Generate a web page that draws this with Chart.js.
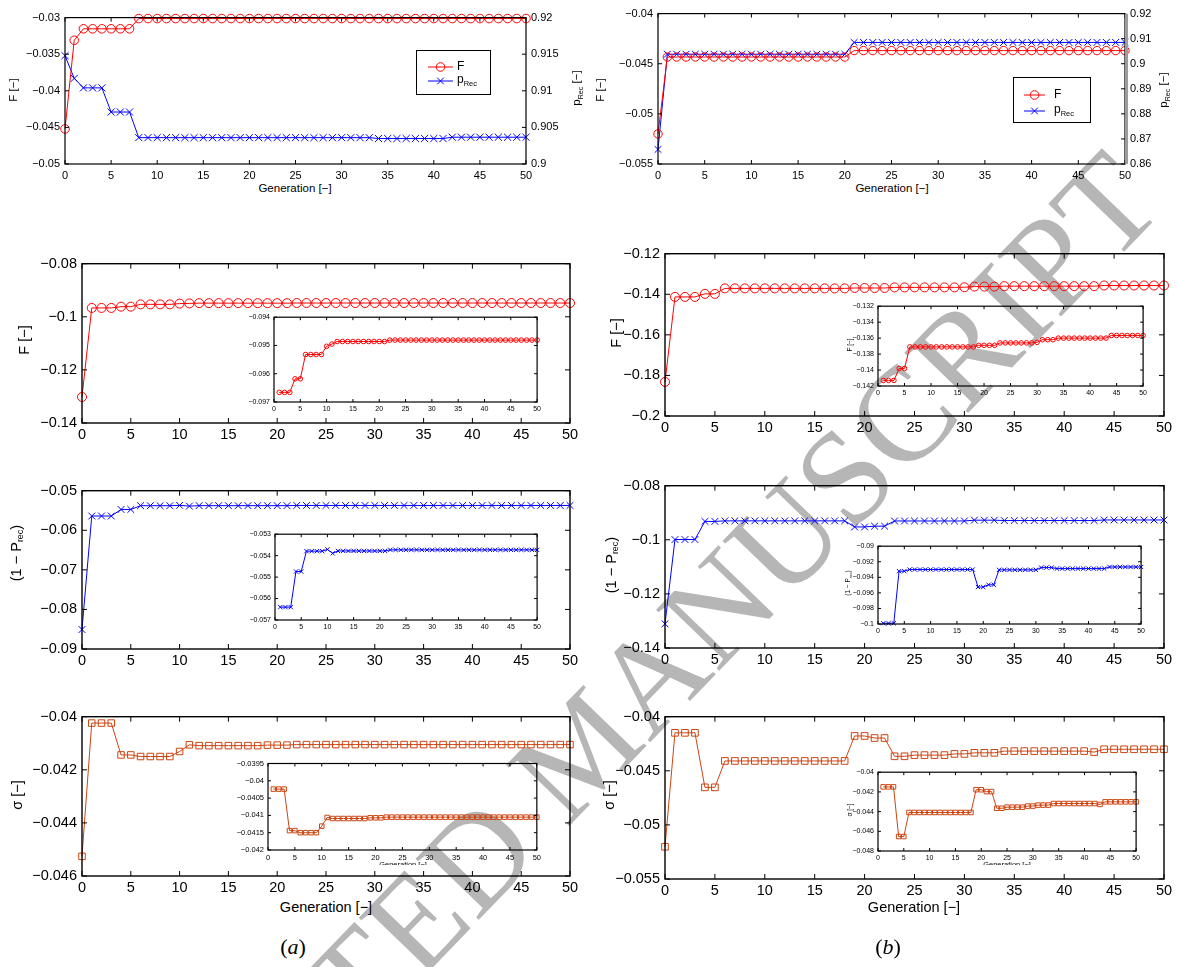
<!DOCTYPE html>
<html>
<head>
<meta charset="utf-8">
<script src="https://cdn.jsdelivr.net/npm/chart.js@4.4.1/dist/chart.umd.min.js"></script>
<style>
  body { margin: 0; width: 1177px; height: 967px; position: relative; overflow: hidden; background: #fff;
         font-family: "Liberation Sans", Arial, sans-serif; color: #000; }
  canvas { position: absolute; }
  .t { position: absolute; white-space: nowrap; line-height: 1; }
  .c { transform: translate(-50%, -50%); }
  .r { transform: translate(-50%, -50%) rotate(-90deg); }
  .legend { position: absolute; background: #fff; border: 1px solid #000; box-sizing: border-box; }
  .legend svg { position: absolute; }
  sub { font-size: 0.62em; vertical-align: -0.3em; }
  .wm { position: absolute; white-space: nowrap; font-family: "Liberation Serif", "DejaVu Serif", serif;
        font-size: 134px; line-height: 1; color: #b6b6b6; transform: translate(-50%, -50%) rotate(-46deg); }
  .clip { position: absolute; overflow: hidden; }
</style>
</head>
<body>
<div class="wm" style="left:582px;top:748px">ACCEPTED MANUSCRIPT</div>
<script>
// generation axis
const generations = [0,1,2,3,4,5,6,7,8,9,10,11,12,13,14,15,16,17,18,19,20,21,22,23,24,25,
  26,27,28,29,30,31,32,33,34,35,36,37,38,39,40,41,42,43,44,45,46,47,48,49,50];
const genTicks = [0,5,10,15,20,25,30,35,40,45,50];

// (a) top: F and p_Rec
const fA = [-0.0452,-0.0331,-0.03153,-0.03153,-0.03153,-0.03153,-0.03153,-0.03153,
  -0.03013,-0.03013,-0.03013,-0.03013,-0.03013,-0.03013,-0.03013,-0.03013,-0.03013,-0.03013,
  -0.03013,-0.03013,-0.03013,-0.03013,-0.03013,-0.03013,-0.03013,-0.03013,-0.03013,-0.03013,
  -0.03013,-0.03013,-0.03013,-0.03013,-0.03013,-0.03013,-0.03013,-0.03013,-0.03013,-0.03013,
  -0.03013,-0.03013,-0.03013,-0.03013,-0.03013,-0.03013,-0.03013,-0.03013,-0.03013,-0.03013,
  -0.03013,-0.03013,-0.03013];
const pRecA = [0.9148,0.9117,0.9104,0.9104,0.9104,0.9071,0.9071,0.9071,
  0.9036,0.9036,0.9036,0.9036,0.9036,0.9036,0.9036,0.9036,0.9036,0.9036,0.9036,0.9036,0.9036,
  0.9036,0.9036,0.9036,0.9036,0.9036,0.9036,0.9036,0.9036,0.9036,0.9036,0.9036,0.9036,0.9036,
  0.90348,0.90348,0.90348,0.90348,0.90348,0.90348,0.90348,0.90348,
  0.90366,0.90366,0.90366,0.90366,0.90366,0.90366,0.90366,0.90366,0.90366];
// (b) top
const fB = [-0.0520,
  -0.04433,-0.04433,-0.04433,-0.04433,-0.04433,-0.04433,-0.04433,-0.04433,-0.04433,-0.04433,
  -0.04433,-0.04433,-0.04433,-0.04433,-0.04433,-0.04433,-0.04433,-0.04433,-0.04433,-0.04433,
  -0.04369,-0.04369,-0.04369,-0.04369,-0.04369,-0.04369,-0.04369,-0.04369,-0.04369,-0.04369,
  -0.04369,-0.04369,-0.04369,-0.04369,-0.04369,-0.04369,-0.04369,-0.04369,-0.04369,-0.04369,
  -0.04369,-0.04369,-0.04369,-0.04369,-0.04369,-0.04369,-0.04369,-0.04369,-0.04369,-0.04369];
const pRecB = [0.8658,
  0.9038,0.9038,0.9038,0.9038,0.9038,0.9038,0.9038,0.9038,0.9038,0.9038,
  0.9038,0.9038,0.9038,0.9038,0.9038,0.9038,0.9038,0.9038,0.9038,0.9038,
  0.9085,0.9085,0.9085,0.9085,0.9085,0.9085,0.9085,0.9085,0.9085,0.9085,
  0.9085,0.9085,0.9085,0.9085,0.9085,0.9085,0.9085,0.9085,0.9085,0.9085,
  0.9085,0.9085,0.9085,0.9085,0.9085,0.9085,0.9085,0.9085,0.9085,0.9085];

// objective F
const fObjA = [-0.1302,-0.09666,-0.09666,-0.09666,-0.09618,-0.09618,
  -0.09532,-0.09532,-0.09532,-0.09532,-0.09503,-0.09495,
  -0.09486,-0.09486,-0.09486,-0.09486,-0.09486,-0.09486,-0.09486,-0.09486,-0.09486,-0.09486,
  -0.09481,-0.09481,-0.09481,-0.09481,-0.09481,-0.09481,-0.09481,-0.09481,-0.09481,-0.09481,
  -0.09481,-0.09481,-0.09481,-0.09481,-0.09481,-0.09481,-0.09481,-0.09481,-0.09481,-0.09481,
  -0.09481,-0.09481,-0.09481,-0.09481,-0.09481,-0.09481,-0.09481,-0.09481,-0.09481];
const fObjB = [-0.1832,-0.1413,-0.1413,-0.1413,-0.1398,-0.1398,
  -0.1371,-0.1371,-0.1371,-0.1371,-0.1371,-0.1371,-0.1371,-0.1371,-0.1371,-0.1371,-0.1371,-0.1371,-0.1371,
  -0.1369,-0.1369,-0.1369,-0.1369,
  -0.1366,-0.1366,-0.1366,-0.1366,-0.1366,-0.1366,-0.1366,-0.13653,
  -0.1362,-0.1362,-0.1362,
  -0.1360,-0.1360,-0.1360,-0.1360,-0.1360,-0.1360,-0.1360,-0.1360,-0.1360,-0.1360,
  -0.13567,-0.13567,-0.13567,-0.13567,-0.13567,-0.13567,-0.13567];

// (1 - P_rec)
const recA = [-0.08508,-0.0564,-0.0564,-0.0564,-0.05474,-0.05474,
  -0.05379,-0.05379,-0.05379,-0.05379,-0.05371,-0.05389,
  -0.05378,-0.05378,-0.05378,-0.05378,-0.05378,-0.05378,-0.05378,-0.05378,-0.05378,-0.05378,
  -0.05373,-0.05373,-0.05373,-0.05373,-0.05373,-0.05373,-0.05373,-0.05373,-0.05373,-0.05373,
  -0.05373,-0.05373,-0.05373,-0.05373,-0.05373,-0.05373,-0.05373,-0.05373,-0.05373,-0.05373,
  -0.05373,-0.05373,-0.05373,-0.05373,-0.05373,-0.05373,-0.05373,-0.05373,-0.05373];
const recB = [-0.13105,-0.0999,-0.0999,-0.0999,-0.09321,-0.09321,
  -0.0930,-0.0930,-0.0930,-0.0930,-0.0930,-0.0930,-0.0930,-0.0930,-0.0930,-0.0930,-0.0930,-0.0930,-0.0930,
  -0.09525,-0.09525,-0.09496,-0.09496,
  -0.09304,-0.09304,-0.09304,-0.09304,-0.09304,-0.09304,-0.09304,-0.09304,
  -0.09275,-0.09275,-0.09275,
  -0.09288,-0.09288,-0.09288,-0.09288,-0.09288,-0.09288,-0.09288,-0.09288,-0.09288,-0.09288,
  -0.09267,-0.09267,-0.09267,-0.09267,-0.09267,-0.09267,-0.09267];

// sigma
const sigmaA = [-0.04526,-0.04024,-0.04024,-0.04024,-0.04144,-0.04144,
  -0.0415,-0.0415,-0.0415,-0.0415,-0.04131,-0.04106,
  -0.04109,-0.04109,-0.04109,-0.04109,-0.04109,-0.04109,-0.04109,
  -0.04107,-0.04107,-0.04107,
  -0.04105,-0.04105,-0.04105,-0.04105,-0.04105,-0.04105,-0.04105,-0.04105,-0.04105,-0.04105,
  -0.04105,-0.04105,-0.04105,-0.04105,-0.04105,-0.04105,-0.04105,-0.04105,-0.04105,-0.04105,
  -0.04105,-0.04105,-0.04105,-0.04105,-0.04105,-0.04105,-0.04105,-0.04105,-0.04105];
const sigmaB = [-0.05202,-0.04149,-0.04149,-0.04149,-0.04653,-0.04653,
  -0.04409,-0.04409,-0.04409,-0.04409,-0.04409,-0.04409,-0.04409,-0.04409,-0.04409,-0.04409,-0.04409,-0.04409,-0.04409,
  -0.04178,-0.04178,-0.04197,-0.04197,-0.04366,-0.04366,
  -0.04355,-0.04355,-0.04355,-0.04355,-0.04344,-0.04344,
  -0.04334,-0.04334,-0.04334,
  -0.04318,-0.04318,-0.04318,-0.04318,-0.04318,-0.04318,-0.04318,-0.04318,-0.04318,-0.04327,
  -0.04301,-0.04301,-0.04301,-0.04301,-0.04301,-0.04301,-0.04301];

// y tick values
const ticksA1 = [-0.05,-0.045,-0.04,-0.035,-0.03];
const ticksA1r = [0.9,0.905,0.91,0.915,0.92];
const ticksB1 = [-0.055,-0.05,-0.045,-0.04];
const ticksB1r = [0.86,0.87,0.88,0.89,0.9,0.91,0.92];
const ticksA2 = [-0.14,-0.12,-0.1,-0.08];
const ticksA2i = [-0.097,-0.096,-0.095,-0.094];
const ticksB2 = [-0.2,-0.18,-0.16,-0.14,-0.12];
const ticksB2i = [-0.142,-0.14,-0.138,-0.136,-0.134,-0.132];
const ticksA3 = [-0.09,-0.08,-0.07,-0.06,-0.05];
const ticksA3i = [-0.057,-0.056,-0.055,-0.054,-0.053];
const ticksB3 = [-0.14,-0.12,-0.1,-0.08];
const ticksB3i = [-0.1,-0.098,-0.096,-0.094,-0.092,-0.09];
const ticksA4 = [-0.046,-0.044,-0.042,-0.04];
const ticksA4i = [-0.042,-0.0415,-0.041,-0.0405,-0.04,-0.0395];
const ticksB4 = [-0.055,-0.05,-0.045,-0.04];
const ticksB4i = [-0.048,-0.046,-0.044,-0.042,-0.04];

const RED = '#ff0000', BLUE = '#0000ff', ORANGE = 'rgb(204,68,17)';
const FONT = '"Liberation Sans", Arial, sans-serif';
Chart.defaults.font.family = FONT;

function fmt(v) {
  const s = String(Number(Math.abs(v).toPrecision(6)));
  return (v < 0 ? '\u2212' : '') + s;
}

// matlab style frame with inward ticks
const boxPlugin = {
  id: 'box',
  afterDatasetsDraw(chart, args, o) {
    const { ctx, chartArea: a, scales } = chart;
    const t = o.tick;
    ctx.save();
    ctx.strokeStyle = '#000';
    ctx.lineWidth = 1;
    ctx.beginPath();
    scales.x.ticks.forEach(tk => {
      const px = scales.x.getPixelForValue(tk.value);
      ctx.moveTo(px, a.bottom); ctx.lineTo(px, a.bottom - t);
      ctx.moveTo(px, a.top); ctx.lineTo(px, a.top + t);
    });
    scales.y.ticks.forEach(tk => {
      const py = scales.y.getPixelForValue(tk.value);
      ctx.moveTo(a.left, py); ctx.lineTo(a.left + t, py);
      if (!scales.y2) { ctx.moveTo(a.right, py); ctx.lineTo(a.right - t, py); }
    });
    if (scales.y2) {
      scales.y2.ticks.forEach(tk => {
        const py = scales.y2.getPixelForValue(tk.value);
        ctx.moveTo(a.right, py); ctx.lineTo(a.right - t, py);
      });
    }
    ctx.stroke();
    ctx.lineWidth = o.lw;
    ctx.strokeRect(a.left, a.top, a.right - a.left, a.bottom - a.top);
    if (o.grayRight) {
      ctx.strokeStyle = '#9c9c9c';
      ctx.lineWidth = 3;
      ctx.beginPath();
      ctx.moveTo(a.right + 1.5, a.top); ctx.lineTo(a.right + 1.5, a.bottom);
      ctx.stroke();
    }
    ctx.restore();
  }
};

function axis(pos, ticks, size, fontSize, pad) {
  return {
    type: 'linear', position: pos,
    min: ticks[0], max: ticks[ticks.length - 1],
    grid: { display: false, drawTicks: false },
    border: { display: false },
    ticks: { color: '#000', font: { size: fontSize }, padding: pad, autoSkip: false, maxRotation: 0,
             callback: v => fmt(v) },
    afterBuildTicks: s => { s.ticks = ticks.map(v => ({ value: v })); },
    afterFit: s => { if (pos === 'bottom') s.height = size; else s.width = size; }
  };
}

function series(vals, from, color, style, r, axisId) {
  const pts = [];
  for (let i = from; i < vals.length; i++) pts.push({ x: generations[i], y: vals[i] });
  return {
    data: pts, yAxisID: axisId || 'y',
    borderColor: color, borderWidth: 1, tension: 0, clip: false,
    pointStyle: style, pointRadius: r, pointBorderColor: color, pointBorderWidth: 1,
    pointBackgroundColor: 'rgba(0,0,0,0)'
  };
}

function panel(p) {
  const cv = document.createElement('canvas');
  const w = p.yW + (p.R - p.L) + (p.rW || 0) + p.padR;
  const h = p.padT + (p.B - p.T) + p.xH;
  cv.width = w; cv.height = h;
  cv.style.left = (p.L - p.yW) + 'px';
  cv.style.top = (p.T - p.padT) + 'px';
  cv.style.width = w + 'px';
  cv.style.height = h + 'px';
  document.body.appendChild(cv);
  const scales = {
    x: axis('bottom', genTicks, p.xH, p.fs, p.xPad),
    y: axis('left', p.yTicks, p.yW, p.fs, p.yPad)
  };
  if (p.y2Ticks) scales.y2 = axis('right', p.y2Ticks, p.rW, p.fs, p.yPad);
  new Chart(cv, {
    type: 'line',
    data: { datasets: p.datasets },
    options: {
      responsive: false, animation: false, devicePixelRatio: 1, events: [],
      layout: { padding: { left: 0, top: p.padT, right: p.padR, bottom: 0 } },
      plugins: { legend: { display: false }, tooltip: { enabled: false },
                 box: { tick: p.tick, lw: p.lw, grayRight: p.grayRight } },
      scales
    },
    plugins: [boxPlugin]
  });
}

function label(html, x, y, size, cls, extra) {
  const d = document.createElement('div');
  d.className = 't ' + cls;
  d.style.left = x + 'px';
  d.style.top = y + 'px';
  d.style.fontSize = size + 'px';
  if (extra) d.style.cssText += extra;
  d.innerHTML = html;
  document.body.appendChild(d);
  return d;
}

function legend(x, y, w, h, rows) {
  const box = document.createElement('div');
  box.className = 'legend';
  box.style.cssText = `left:${x}px;top:${y}px;width:${w}px;height:${h}px`;
  rows.forEach(r => {
    const sv = document.createElementNS('http://www.w3.org/2000/svg', 'svg');
    sv.setAttribute('width', r.len + 10);
    sv.setAttribute('height', 12);
    sv.style.left = (r.x - x - 5) + 'px';
    sv.style.top = (r.y - y - 6) + 'px';
    const mid = r.len / 2 + 5;
    let mk;
    if (r.marker === 'circle') {
      mk = `<circle cx="${mid}" cy="6" r="4.3" fill="none" stroke="${r.color}" stroke-width="1"/>`;
    } else {
      mk = `<path d="M${mid-3.3} 2.7L${mid+3.3} 9.3M${mid-3.3} 9.3L${mid+3.3} 2.7" stroke="${r.color}" stroke-width="1"/>`;
    }
    sv.innerHTML = `<line x1="5" y1="6" x2="${r.len + 5}" y2="6" stroke="${r.color}" stroke-width="1"/>` + mk;
    box.appendChild(sv);
    const tx = document.createElement('div');
    tx.className = 't';
    tx.style.cssText = `left:${r.tx - x}px;top:${r.y - y}px;font-size:12px;transform:translateY(-55%)`;
    tx.innerHTML = r.text;
    box.appendChild(tx);
  });
  document.body.appendChild(box);
}

// ---- top row ----
panel({ L: 65, T: 13, R: 526, B: 164, yW: 55, rW: 45, padR: 0, padT: 7, xH: 18, fs: 11, xPad: 5, yPad: 5,
  tick: 4, lw: 1.2, yTicks: ticksA1, y2Ticks: ticksA1r,
  datasets: [series(fA, 0, RED, 'circle', 4.3), series(pRecA, 0, BLUE, 'crossRot', 5, 'y2')] });
panel({ L: 658, T: 9, R: 1125, B: 164, yW: 55, rW: 45, padR: 0, padT: 7, xH: 18, fs: 11, xPad: 5, yPad: 5,
  tick: 4, lw: 1.2, yTicks: ticksB1, y2Ticks: ticksB1r, grayRight: true,
  datasets: [series(fB, 0, RED, 'circle', 4.2), series(pRecB, 0, BLUE, 'crossRot', 4.8, 'y2')] });

// ---- main panels ----
const M = { yW: 70, padR: 12, padT: 10, xH: 22, fs: 14.5, xPad: 3, yPad: 5, tick: 5, lw: 1.4 };
const I = { yW: 40, padR: 6, padT: 6, xH: 14, fs: 7, xPad: 3, yPad: 4, tick: 3, lw: 1.2 };

panel(Object.assign({}, M, { L: 82, T: 260, R: 570, B: 423, yTicks: ticksA2,
  datasets: [series(fObjA, 0, RED, 'circle', 4.5)] }));
panel(Object.assign({}, I, { L: 274, T: 315, R: 538, B: 402, yTicks: ticksA2i,
  datasets: [series(fObjA, 1, RED, 'circle', 2.3)] }));

panel(Object.assign({}, M, { L: 665, T: 250, R: 1164, B: 416, yTicks: ticksB2,
  datasets: [series(fObjB, 0, RED, 'circle', 4.5)] }));
panel(Object.assign({}, I, { L: 878, T: 304, R: 1144, B: 386, yTicks: ticksB2i,
  datasets: [series(fObjB, 1, RED, 'circle', 2.3)] }));

panel(Object.assign({}, M, { L: 82, T: 487, R: 570, B: 649, yTicks: ticksA3,
  datasets: [series(recA, 0, BLUE, 'crossRot', 4.8)] }));
panel(Object.assign({}, I, { L: 275, T: 532, R: 538, B: 620, yTicks: ticksA3i,
  datasets: [series(recA, 1, BLUE, 'crossRot', 3)] }));

panel(Object.assign({}, M, { L: 665, T: 482, R: 1164, B: 648, yTicks: ticksB3,
  datasets: [series(recB, 0, BLUE, 'crossRot', 4.8)] }));
panel(Object.assign({}, I, { L: 878, T: 544, R: 1142, B: 624, yTicks: ticksB3i,
  datasets: [series(recB, 1, BLUE, 'crossRot', 3)] }));

panel(Object.assign({}, M, { L: 82, T: 713, R: 570, B: 876, yTicks: ticksA4,
  datasets: [series(sigmaA, 0, ORANGE, 'rect', 4.6)] }));
panel(Object.assign({}, I, { L: 268, T: 761, R: 538, B: 850, fs: 7.5, yW: 44, yTicks: ticksA4i,
  datasets: [series(sigmaA, 1, ORANGE, 'rect', 3.2)] }));

panel(Object.assign({}, M, { L: 665, T: 713, R: 1164, B: 879, yTicks: ticksB4,
  datasets: [series(sigmaB, 0, ORANGE, 'rect', 4.7)] }));
panel(Object.assign({}, I, { L: 878, T: 770, R: 1137, B: 851, yTicks: ticksB4i,
  datasets: [series(sigmaB, 1, ORANGE, 'rect', 3.2)] }));

// ---- axis titles ----
label('F [\u2212]', 14, 90, 11.5, 'r');
label('p<sub>Rec</sub> [\u2212]', 578, 88, 11.5, 'r');
label('Generation [\u2212]', 295, 189, 11.5, 'c');
label('F [\u2212]', 601, 90, 11.5, 'r');
label('p<sub>Rec</sub> [\u2212]', 1165, 90, 11.5, 'r');
label('Generation [\u2212]', 892, 189, 11.5, 'c');

label('F [\u2212]', 24, 340, 14.5, 'r');
label('F [\u2212]', 616, 333, 14.5, 'r');
label('(1 \u2212 P<sub>rec</sub>)', 17, 553, 14.5, 'r');
label('(1 \u2212 P<sub>rec</sub>)', 612, 565, 14.5, 'r');
label('\u03c3 [\u2212]', 17, 795, 14.5, 'r');
label('\u03c3 [\u2212]', 609, 795, 14.5, 'r');
label('Generation [\u2212]', 326, 907, 14.5, 'c');
label('Generation [\u2212]', 914, 907, 14.5, 'c');

// inset titles
label('F [\u2212]', 850, 345, 6.5, 'r');
label('(1 \u2212 P<sub>rec</sub>)', 849, 583, 6.5, 'r');
label('\u03c3 [\u2212]', 850, 810, 6.5, 'r');
[403, 1007].forEach(cx => {
  const c = document.createElement('div');
  c.className = 'clip';
  c.style.cssText = `left:${cx - 40}px;top:861px;width:80px;height:4px`;
  c.innerHTML = `<div class="t" style="left:0;width:80px;text-align:center;top:0;font-size:7.5px">Generation [\u2212]</div>`;
  document.body.appendChild(c);
});

// panel tags
const tagCss = 'font-family:"Liberation Serif","DejaVu Serif",serif;';
label('(<i>a</i>)', 293, 947, 22, 'c', tagCss);
label('(<i>b</i>)', 888, 947, 22, 'c', tagCss);

// legends
legend(416, 50, 75, 45, [
  { x: 427, y: 66, len: 25, marker: 'circle', color: RED, tx: 456, text: 'F' },
  { x: 427, y: 80, len: 25, marker: 'cross', color: BLUE, tx: 456, text: 'p<sub>Rec</sub>' }
]);
legend(1013, 77, 78, 46, [
  { x: 1023, y: 94, len: 21, marker: 'circle', color: RED, tx: 1053, text: 'F' },
  { x: 1023, y: 110, len: 21, marker: 'cross', color: BLUE, tx: 1053, text: 'p<sub>Rec</sub>' }
]);
</script>
</body>
</html>
